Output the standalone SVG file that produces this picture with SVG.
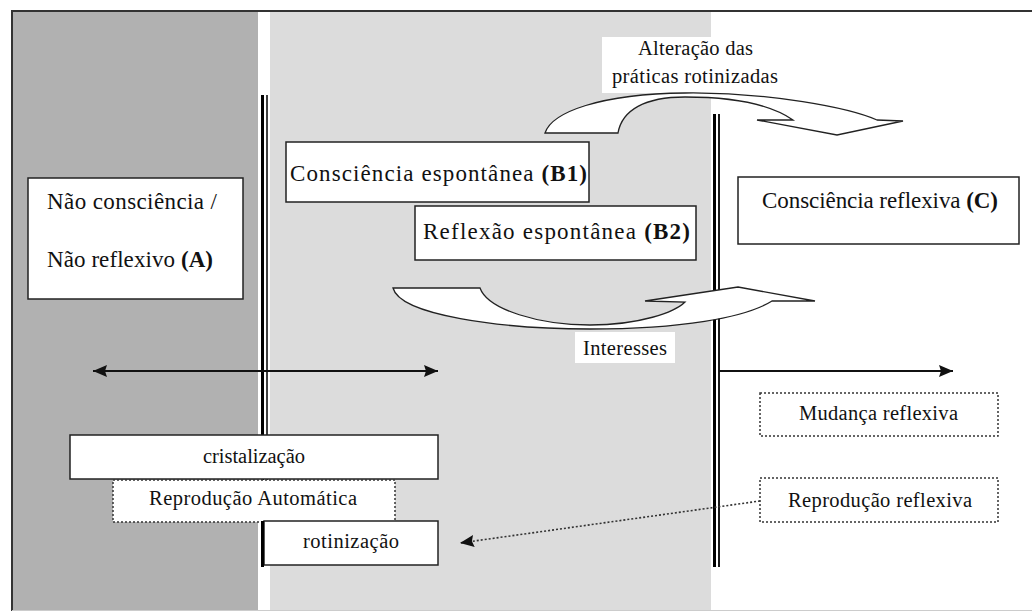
<svg xmlns="http://www.w3.org/2000/svg" width="1032" height="612" viewBox="0 0 1032 612">
<defs>
<style>
text{font-family:"Liberation Serif","DejaVu Serif",serif;fill:#111;}
.big{font-size:23px;}
.sm{font-size:20.5px;}
.box{fill:#fff;stroke:#222;stroke-width:1.5;}
.dot{fill:#fff;stroke:#333;stroke-width:1.5;stroke-dasharray:2 2;}
.vl{stroke:#000;}
.blk{fill:#fff;stroke:#222;stroke-width:1.3;}
.b{font-weight:bold;}
</style>
<marker id="ah" viewBox="0 0 14 12" refX="14" refY="6" markerWidth="14" markerHeight="12" markerUnits="userSpaceOnUse" orient="auto-start-reverse">
<path d="M0,0 L14,6 L0,12 L2,6 Z" fill="#111"/>
</marker>
</defs>
<g id="background">
<rect x="12" y="11" width="1020" height="600" fill="#fff"/>
<rect x="13" y="12" width="245" height="598" fill="#b1b1b1"/>
<rect x="270" y="12" width="441" height="598" fill="#dcdcdc"/>
<line x1="11" y1="11" x2="1032" y2="11" stroke="#333" stroke-width="2"/>
<line x1="12" y1="10" x2="12" y2="611" stroke="#333" stroke-width="2"/>
<line x1="12" y1="610.5" x2="1032" y2="610.5" stroke="#ccc" stroke-width="1"/>
<rect x="602" y="37" width="109" height="56" fill="#fff"/>
<rect x="575" y="332" width="100" height="31" fill="#fff"/>
</g>
<g id="dividers">
<line class="vl" x1="262.5" y1="95" x2="262.5" y2="567" stroke-width="3"/>
<line class="vl" x1="267" y1="95" x2="267" y2="522" stroke-width="1.5"/>
<line class="vl" x1="714.5" y1="114" x2="714.5" y2="567" stroke-width="3"/>
<line class="vl" x1="719" y1="114" x2="719" y2="567" stroke-width="1.8"/>
</g>
<g id="connectors">
<line x1="93" y1="371" x2="438" y2="371" stroke="#111" stroke-width="2" marker-start="url(#ah)" marker-end="url(#ah)"/>
<line x1="719" y1="371" x2="953" y2="371" stroke="#111" stroke-width="2" marker-end="url(#ah)"/>
<line x1="760" y1="501" x2="460" y2="543" stroke="#333" stroke-width="1.6" stroke-dasharray="2 2" marker-end="url(#ah)"/>
<path class="blk" d="M545,133 C552,112 600,94 685,93 C770,92 850,108 877,120 L903,121 L837,135 L757,120 L793,120 C770,104 730,97 685,97 C645,97 622,110 618,133 Z"/>
<path class="blk" d="M393,288 L480,288 C488,310 540,325 590,325 C640,325 675,312 685,302 L645,301 L738,287 L815,301 L772,301 C745,318 680,329 590,329 C500,329 400,315 393,288 Z"/>
</g>
<g id="label-alteracao">
<text class="sm" x="638" y="55" textLength="115">Alteração das</text>
<text class="sm" x="612" y="83" textLength="166">práticas rotinizadas</text>
</g>
<g id="label-interesses">
<text class="sm" x="583" y="355" textLength="84">Interesses</text>
</g>
<g id="nodeA">
<rect class="box" x="28" y="178" width="215" height="121"/>
<text class="big" x="47" y="209" textLength="170">Não consciência /</text>
<text class="big" x="47" y="267" textLength="166">Não reflexivo <tspan class="b">(A)</tspan></text>
</g>
<g id="nodeB1">
<rect class="box" x="286" y="142" width="303" height="60"/>
<text class="big" x="290" y="181" textLength="297">Consciência espontânea <tspan class="b">(B1)</tspan></text>
</g>
<g id="nodeB2">
<rect class="box" x="415" y="206" width="281" height="54"/>
<text class="big" x="423" y="239" textLength="267">Reflexão espontânea <tspan class="b">(B2)</tspan></text>
</g>
<g id="nodeC">
<rect class="box" x="738" y="177" width="281" height="67"/>
<text class="big" x="762" y="208" textLength="236">Consciência reflexiva <tspan class="b">(C)</tspan></text>
</g>
<g id="node-cristalizacao">
<rect class="box" x="70" y="435" width="368" height="44" stroke-width="2"/>
<text class="sm" x="203" y="463" textLength="102">cristalização</text>
</g>
<g id="node-reproducao-automatica">
<rect class="dot" x="113" y="480" width="282" height="42"/>
<text class="sm" x="149" y="505" textLength="208">Reprodução Automática</text>
</g>
<g id="node-rotinizacao">
<rect class="box" x="264" y="521" width="174" height="44" stroke-width="2"/>
<line x1="262.5" y1="521" x2="262.5" y2="567" stroke="#000" stroke-width="3"/>
<text class="sm" x="303" y="548" textLength="96">rotinização</text>
</g>
<g id="node-mudanca">
<rect class="dot" x="760" y="393" width="238" height="43"/>
<text class="sm" x="799" y="420" textLength="159">Mudança reflexiva</text>
</g>
<g id="node-reproducao-reflexiva">
<rect class="dot" x="760" y="478" width="238" height="44"/>
<text class="sm" x="788" y="507" textLength="184">Reprodução reflexiva</text>
</g>
</svg>
